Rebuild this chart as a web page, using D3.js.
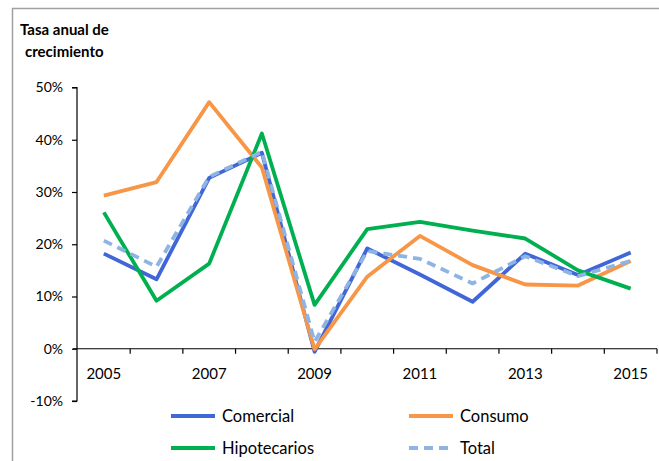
<!DOCTYPE html>
<html>
<head>
<meta charset="utf-8">
<script src="https://cdn.jsdelivr.net/npm/d3@7/dist/d3.min.js"></script>
<style>
  html, body { margin: 0; padding: 0; background: #fff; }
  svg { display: block; }
  text { font-family: Lato, "Open Sans", sans-serif; fill: #000; }
</style>
</head>
<body>
<svg id="chart" width="659" height="461"></svg>
<script>
const years = ["2005","2006","2007","2008","2009","2010","2011","2012","2013","2014","2015"];
const xTickLabels = ["2005","2007","2009","2011","2013","2015"];
const yTicks = [-0.1, 0, 0.1, 0.2, 0.3, 0.4, 0.5];

const comercial    = [18.2, 13.3, 32.7, 37.5, -0.6, 19.2, 14.2, 9.0, 18.2, 14.1, 18.4];
const consumo      = [29.3, 31.9, 47.2, 34.7, -0.1, 13.8, 21.6, 16.0, 12.3, 12.1, 16.8];
const hipotecarios = [26.1, 9.2, 16.3, 41.2, 8.4, 22.9, 24.3, 22.6, 21.1, 15.0, 11.5];
const total        = [20.7, 15.7, 32.9, 37.7, 1.3, 18.7, 17.2, 12.5, 17.7, 13.9, 16.8];

const seriesNames = ["Comercial", "Consumo", "Hipotecarios", "Total"];
const seriesValues = [comercial, consumo, hipotecarios, total];
const seriesColors = ["#4066D8", "#F79646", "#00B050", "#8DB4E2"];
const seriesDash = [null, null, null, "9,6"];

const svg = d3.select("#chart");

// frame
svg.append("rect").attr("x", 12.5).attr("y", 8.5).attr("width", 660).attr("height", 470)
  .attr("fill", "none").attr("stroke", "#A0A0A0").attr("stroke-width", 1.5);

const x = d3.scaleBand().domain(years).range([77.5, 657]);
const y = d3.scaleLinear().domain([-0.1, 0.5]).range([401, 87.5]);

// title
const title = svg.append("text").attr("x", 20).attr("y", 35)
  .style("font-weight", "bold").style("font-size", "15px");
title.append("tspan").attr("x", 20).attr("y", 35).text("Tasa anual de");
title.append("tspan").attr("x", 25).attr("y", 57).text("crecimiento");

// y axis
const yAxis = d3.axisLeft(y).tickValues(yTicks)
  .tickFormat(d => Math.round(d * 100) + "%").tickSize(5).tickPadding(9);
const gy = svg.append("g").attr("transform", "translate(77,0)").call(yAxis);
gy.select(".domain").attr("stroke", "#000").attr("stroke-width", 1.2).attr("d", `M-5,${y(0.5)}H0V${y(-0.1)}H-5`);
gy.selectAll(".tick line").attr("stroke", "#000").attr("stroke-width", 1.2);
gy.selectAll(".tick text").style("font-size", "14px").style("font-family", "Lato, sans-serif");

// x axis at zero
const boundaries = years.map(d => x(d)).concat([x.range()[1]]);
const gx = svg.append("g").attr("transform", `translate(0,${y(0)})`);
gx.append("path").attr("d", `M73,0H${x.range()[1]}`).attr("stroke", "#000").attr("stroke-width", 1.2).attr("fill", "none");
gx.selectAll("line.tk").data(boundaries.slice(1)).enter().append("line")
  .attr("class", "tk").attr("x1", d => d).attr("x2", d => d).attr("y1", 0).attr("y2", 5)
  .attr("stroke", "#000").attr("stroke-width", 1.2);
gx.selectAll("text").data(xTickLabels).enter().append("text")
  .attr("x", d => x(d) + x.bandwidth() / 2).attr("y", 30)
  .attr("text-anchor", "middle").style("font-size", "15px").text(d => d);

// lines
const line = d3.line().x((d, i) => x(years[i]) + x.bandwidth() / 2).y(d => y(d / 100));
seriesValues.forEach((vals, i) => {
  svg.append("path").datum(vals).attr("d", line)
    .attr("fill", "none").attr("stroke", seriesColors[i]).attr("stroke-width", 3.8)
    .attr("stroke-linejoin", "round")
    .attr("stroke-dasharray", seriesDash[i]);
});

// legend
const legendPos = [[171, 416], [409, 416], [171, 448], [409, 448]];
seriesNames.forEach((name, i) => {
  const [lx, ly] = legendPos[i];
  svg.append("line").attr("x1", lx).attr("x2", lx + 44).attr("y1", ly).attr("y2", ly)
    .attr("stroke", seriesColors[i]).attr("stroke-width", 3.8)
    .attr("stroke-dasharray", seriesDash[i]);
  svg.append("text").attr("x", lx + 51).attr("y", ly).attr("dy", "0.35em")
    .style("font-size", "16.5px").text(name);
});
</script>
</body>
</html>
